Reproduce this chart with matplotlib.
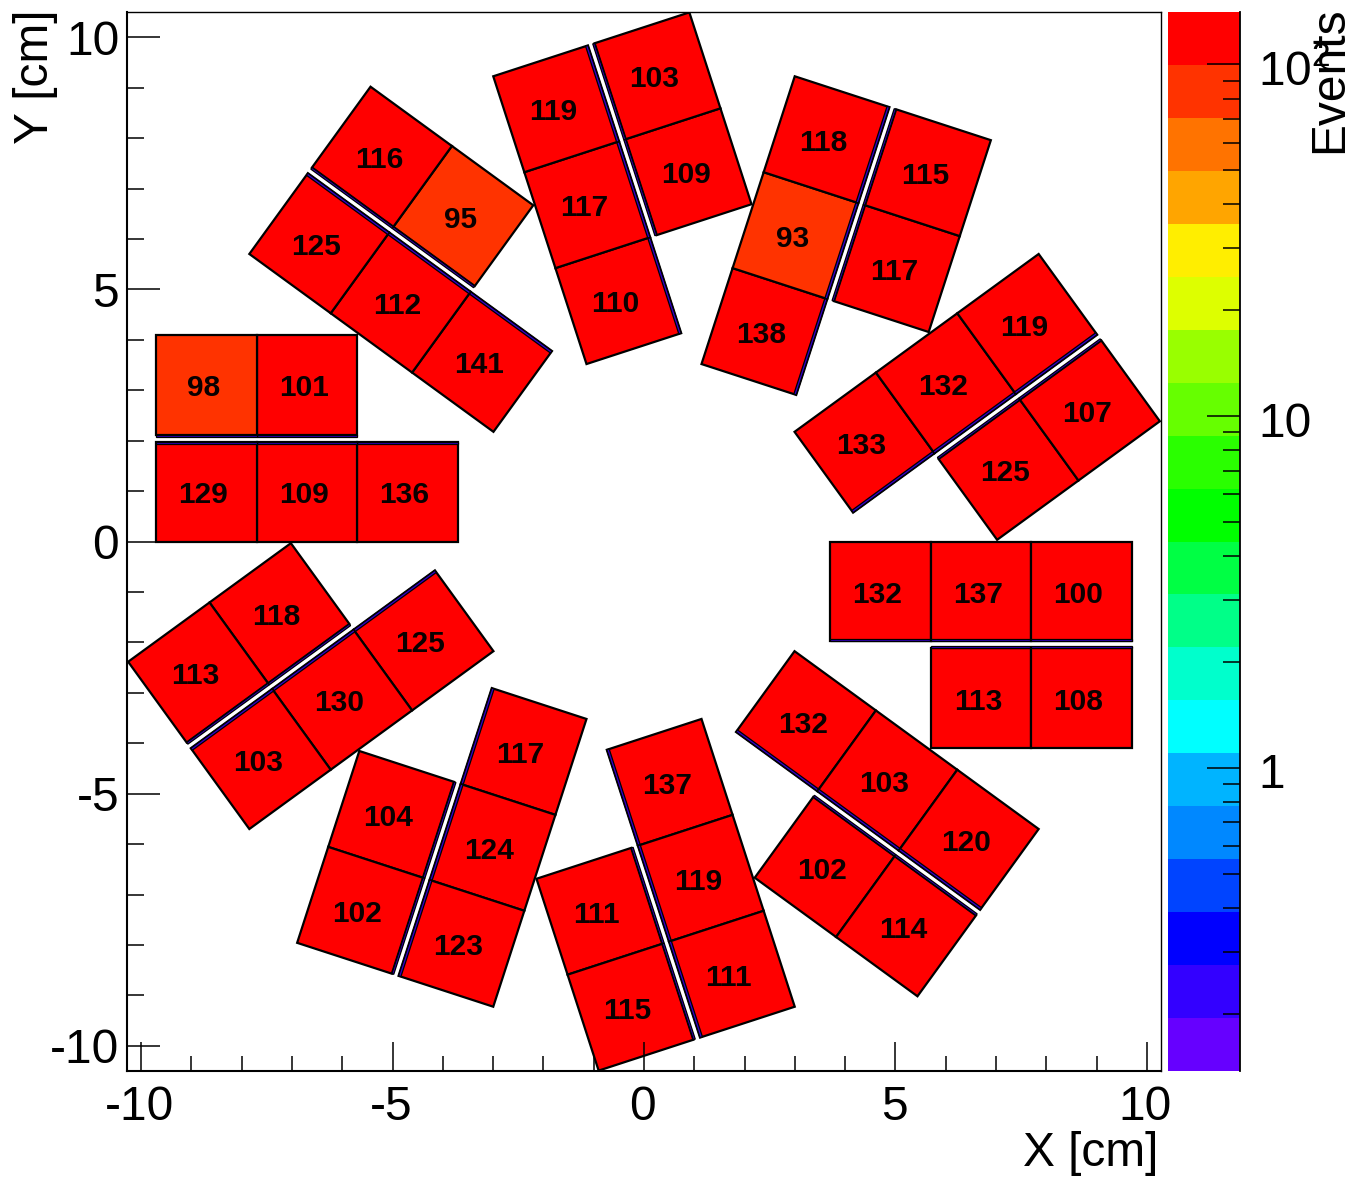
import numpy as np
import matplotlib
matplotlib.use('Agg')
import matplotlib.pyplot as plt
from matplotlib.colors import BoundaryNorm, ListedColormap
from matplotlib.patches import Rectangle
from matplotlib.ticker import LogLocator, NullFormatter, FixedLocator, FixedFormatter
from matplotlib.transforms import Affine2D, ScaledTranslation

plt.rcParams['font.family'] = ['Liberation Sans', 'DejaVu Sans']
plt.rcParams['mathtext.fontset'] = 'custom'
plt.rcParams['mathtext.rm'] = 'Liberation Sans'

# Events per cell, one row per sector (every 36 deg), inner cell first
row_a = [
    [132, 137, 100],
    [133, 132, 119],
    [138, 93, 118],
    [110, 117, 119],
    [141, 112, 125],
    [136, 109, 129],
    [125, 130, 103],
    [117, 124, 123],
    [137, 119, 111],
    [132, 103, 120],
]
row_b = [
    [113, 108],
    [125, 107],
    [117, 115],
    [109, 103],
    [95, 116],
    [101, 98],
    [118, 113],
    [104, 102],
    [111, 115],
    [102, 114],
]

# Palette of the colour scale, bottom to top
palette = ['#6600ff', '#3300ff', '#0000ff', '#0044ff', '#0088ff',
           '#00b4ff', '#00ffff', '#00ffcc', '#00ff88', '#00ff44',
           '#00ff00', '#2aff00', '#66ff00', '#99ff00', '#ddff00',
           '#ffee00', '#ffa500', '#ff7300', '#ff3300', '#ff0000']
z_min = 0.1375
z_max = 141

x_major = [-10, -5, 0, 5, 10]
y_major = [-10, -5, 0, 5, 10]
tick_labels = ['-10', '-5', '0', '5', '10']

levels = np.geomspace(z_min, z_max, len(palette) + 1)
cmap = ListedColormap(palette)
norm = BoundaryNorm(levels, len(palette))

W, H = 1354, 1177
fig = plt.figure(figsize=(W / 100, H / 100), dpi=100)
ax = fig.add_axes([127.5 / W, 1 - 1071 / H, (1161 - 127.5) / W, (1071 - 12) / H])
cax = fig.add_axes([1168 / W, 1 - 1071 / H, (1240 - 1168) / W, (1071 - 12) / H])


def draw_row(values, x0, y0, height, strip_y, strip_h, angle):
    rot = Affine2D().rotate_deg(angle)
    for i, val in enumerate(values):
        x = x0 + i * 2.0
        ax.add_patch(Rectangle((x, y0), 2.0, height, facecolor=cmap(norm(val)),
                               edgecolor='black', linewidth=1.6,
                               transform=rot + ax.transData))
        ax.add_patch(Rectangle((x, strip_y), 2.0, strip_h, facecolor='#3300cc',
                               edgecolor='black', linewidth=0.9,
                               transform=rot + ax.transData))
        cx, cy = rot.transform_point((x + 1.0, y0 + height / 2))
        ax.text(cx - 0.06, cy - 0.07, str(val), ha='center', va='center',
                fontsize=21.5, fontweight='bold', color='#0a0000')


for k in range(len(row_a)):
    draw_row(row_a[k], 3.7, -1.98, 1.98, -1.98, 0.05, k * 36)
    draw_row(row_b[k], 5.7, -4.1, 1.98, -2.12, 0.04, k * 36)

ax.set_xlim(-10.27, 10.28)
ax.set_ylim(-10.5, 10.5)
ax.set_xticks(x_major)
ax.set_xticklabels(tick_labels)
ax.set_yticks(y_major)
ax.set_yticklabels(tick_labels)
ax.set_xticks(np.arange(-10, 11), minor=True)
ax.set_yticks(np.arange(-10, 11), minor=True)
ax.tick_params(axis='x', which='major', direction='in', length=21, width=1.1,
               labelsize=34.5, pad=10)
ax.tick_params(axis='x', which='minor', direction='in', length=10.5, width=1.1)
ax.tick_params(axis='y', which='major', direction='in', length=24, width=1.1,
               labelsize=34.5, pad=6)
ax.tick_params(axis='y', which='minor', direction='in', length=12, width=1.1)
for side in ['left', 'bottom']:
    ax.spines[side].set_linewidth(1.5)
for side in ['top', 'right']:
    ax.spines[side].set_linewidth(1.0)

# x tick labels sit a little left of their ticks in the reference
for label in ax.get_xticklabels():
    label.set_transform(label.get_transform() + ScaledTranslation(-1.5 / 100, 0, fig.dpi_scale_trans))

fig.text(1158 / W, 1 - 1154 / H, 'X [cm]', ha='right', va='center', fontsize=34.5)
fig.text(35 / W, 1 - 10 / H, 'Y [cm]', ha='center', va='top', rotation=90, fontsize=34.5)
fig.text(1330 / W, 1 - 6 / H, 'Events', ha='center', va='top', rotation=90, fontsize=34.5)

# Colour scale
cax.pcolormesh([0, 1], levels, np.array(levels[:-1]).reshape(-1, 1) * 1.01,
               cmap=cmap, norm=norm)
cax.set_yscale('log')
cax.set_ylim(z_min, z_max)
cax.set_xticks([])
cax.yaxis.set_major_locator(FixedLocator([1, 10, 100]))
cax.yaxis.set_major_formatter(FixedFormatter(['1', '10', r'$\mathregular{10^{2}}$']))
cax.yaxis.set_minor_locator(LogLocator(base=10, subs=np.arange(2, 10), numticks=20))
cax.yaxis.set_minor_formatter(NullFormatter())
cax.tick_params(axis='y', which='major', direction='in', left=False, right=True,
                labelleft=False, labelright=True, length=24, width=1.1,
                labelsize=34.5, pad=13)
cax.tick_params(axis='y', which='minor', direction='in', left=False, right=True,
                length=12, width=1.1)
for label in cax.get_yticklabels():
    label.set_transform(label.get_transform() + ScaledTranslation(0, -3 / 100, fig.dpi_scale_trans))
for side in ['left', 'top', 'bottom']:
    cax.spines[side].set_visible(False)
cax.spines['right'].set_linewidth(1.3)

fig.savefig('out.png', dpi=100)
